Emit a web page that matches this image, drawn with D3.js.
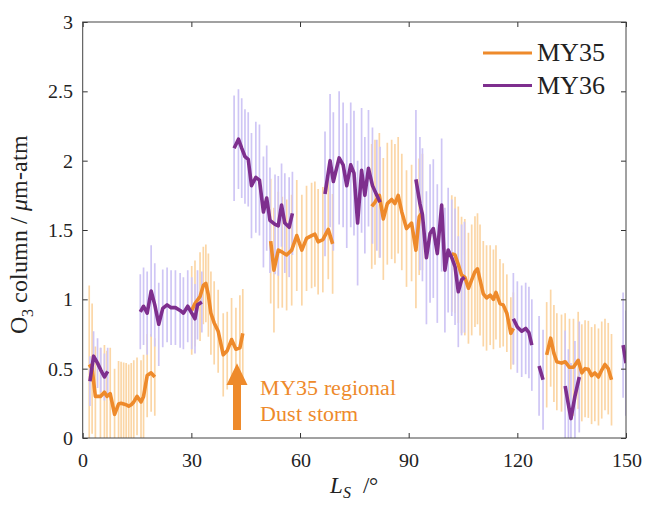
<!DOCTYPE html>
<html>
<head>
<meta charset="utf-8">
<script src="https://cdn.jsdelivr.net/npm/d3@7"></script>
<style>
  @font-face {
    font-family: "PlotSerif";
    src: local("Liberation Serif"), local("LiberationSerif"), local("LiberationSerif-Regular"),
         local("DejaVu Serif"), local("DejaVuSerif"), local("Times New Roman");
    font-style: normal;
  }
  @font-face {
    font-family: "PlotSerif";
    src: local("Liberation Serif Italic"), local("LiberationSerif-Italic"),
         local("DejaVu Serif Italic"), local("DejaVuSerif-Italic");
    font-style: italic;
  }
  body { margin: 0; background: white; }
  svg text { font-family: PlotSerif, 'Liberation Serif', 'DejaVu Serif', serif; fill: #222; }
</style>
</head>
<body>
<div id="container"></div>
<script>
var width = 646,
    height = 505;
var serifFont = "PlotSerif, 'Liberation Serif', 'DejaVu Serif', serif";

var margin = {top: 22, right: 20, bottom: 67, left: 82.7};
var w = width - margin.left - margin.right,
    h = height - margin.top - margin.bottom;

// MY35 -- null marks a gap between observation periods
var my35Ls = [1.8,2.6,3.5,4.9,6.0,6.7,7.6,8.8,9.9,10.6,11.3,12.0,12.7,13.4,14.1,15.0,16.1,16.8,17.8,18.9,19.9, null,
              30.1,31.0,32.4,33.3,34.0,34.7,35.4,36.3,37.4,38.8,39.9,41.1,42.3,43.4,44.2, null,
              51.9,52.8,54.0,55.1,56.3,57.7,59.1,60.5,61.8,63.2,64.1,65.0,66.3,67.8,69.0, null,
              79.8,80.7,81.9,83.0,84.1,85.3,86.2,87.1,88.1,89.4,90.8,92.0,92.9,93.8, null,
              101.9,102.8,103.7,104.6,105.5,106.5,107.4,108.3,109.0,109.7,110.6,111.5,112.5,113.4,114.1,115.2,116.1,117.1,118.2,118.9, null,
              128.1,129.2,130.1,130.9,132.2,133.2,134.4,135.5,136.8,137.8,138.7,139.6,140.5,141.4,142.4,143.3,144.2,145.1,146.0];
var my35O3 = [0.53,0.50,0.30,0.30,0.33,0.30,0.32,0.17,0.245,0.25,0.245,0.24,0.23,0.24,0.26,0.30,0.26,0.30,0.45,0.47,0.44, null,
              0.92,0.97,1.02,1.10,1.115,1.03,0.90,0.83,0.77,0.60,0.63,0.71,0.64,0.65,0.755, null,
              1.42,1.21,1.355,1.34,1.32,1.355,1.46,1.355,1.44,1.46,1.47,1.415,1.43,1.505,1.40, null,
              1.67,1.70,1.75,1.58,1.69,1.72,1.69,1.75,1.63,1.51,1.55,1.355,1.595,1.63, null,
              1.33,1.32,1.25,1.175,1.16,1.08,1.14,1.20,1.22,1.14,1.04,1.01,1.03,1.00,1.05,0.97,0.96,0.90,0.755,0.79, null,
              0.60,0.72,0.61,0.55,0.54,0.55,0.51,0.51,0.56,0.47,0.50,0.495,0.45,0.47,0.44,0.49,0.53,0.50,0.42];
var my35Err = [0.57,0.47,0.36,0.35,0.34,0.33,0.33,0.33,0.31,0.30,0.30,0.30,0.30,0.30,0.30,0.28,0.30,0.30,0.30,0.28,0.28, null,
               0.32,0.31,0.32,0.28,0.28,0.30,0.30,0.30,0.30,0.30,0.28,0.30,0.30,0.38,0.32, null,
               0.45,0.45,0.42,0.40,0.40,0.40,0.40,0.40,0.38,0.38,0.38,0.38,0.38,0.36,0.36, null,
               0.45,0.45,0.45,0.44,0.44,0.43,0.43,0.42,0.42,0.42,0.42,0.42,0.42,0.42, null,
               0.42,0.42,0.42,0.42,0.42,0.40,0.40,0.40,0.40,0.40,0.38,0.38,0.36,0.36,0.34,0.32,0.30,0.28,0.26,0.26, null,
               0.38,0.35,0.35,0.35,0.35,0.35,0.35,0.35,0.35,0.35,0.35,0.35,0.35,0.35,0.35,0.35,0.33,0.33,0.33];

// MY36
var my36Ls = [2.0,3.0,4.1,5.0,6.0,6.9, null,
              15.9,16.8,17.8,18.9,19.9,21.0,22.1,23.3,24.4,25.6,26.9,27.8,29.0,30.1,31.0,31.7,32.9, null,
              41.8,43.0,43.9,44.8,45.7,46.6,47.8,48.8,49.9,50.8,51.7,53.1,54.0,54.9,55.8,57.0,57.9, null,
              66.9,68.3,69.2,70.8,71.9,72.9,74.0,74.9,75.9,77.0,77.9,78.9,80.0,81.2,82.1, null,
              92.0,93.1,93.8,94.9,95.9,96.8,97.9,99.1,100.0,100.9,101.9,102.8,103.7,104.6,105.4, null,
              118.9,120.0,121.2,122.3,123.2,124.0, null,
              126.0,127.1, null,
              133.2,134.1,134.8,135.9,137.1, null,
              149.2,150.0];
var my36O3 = [0.41,0.59,0.54,0.49,0.44,0.48, null,
              0.91,0.95,0.90,1.06,0.96,0.82,0.935,0.96,0.94,0.94,0.92,0.90,0.95,0.90,0.86,0.96,0.98, null,
              2.09,2.155,2.09,2.03,2.01,1.82,1.88,1.86,1.63,1.73,1.57,1.54,1.53,1.68,1.55,1.52,1.62, null,
              1.76,2.00,1.85,2.02,1.97,1.82,1.97,1.91,1.55,1.93,1.75,1.945,1.82,1.75,1.70, null,
              1.865,1.69,1.61,1.30,1.475,1.51,1.33,1.68,1.21,1.355,1.30,1.235,1.055,1.14,1.16, null,
              0.86,0.80,0.77,0.79,0.76,0.67, null,
              0.52,0.42, null,
              0.375,0.24,0.14,0.30,0.44, null,
              0.67,0.54];
var my36Err = [0.18,0.18,0.18,0.16,0.17,0.17, null,
               0.27,0.28,0.30,0.33,0.30,0.30,0.28,0.27,0.27,0.27,0.27,0.26,0.26,0.26,0.25,0.25,0.22, null,
               0.38,0.36,0.36,0.34,0.34,0.38,0.40,0.40,0.40,0.38,0.38,0.36,0.36,0.30,0.36,0.36,0.30, null,
               0.45,0.48,0.50,0.48,0.45,0.45,0.45,0.45,0.45,0.45,0.42,0.42,0.42,0.40,0.40, null,
               0.50,0.48,0.48,0.48,0.50,0.50,0.50,0.48,0.45,0.45,0.42,0.42,0.40,0.40,0.40, null,
               0.33,0.33,0.33,0.33,0.33,0.33, null,
               0.36,0.36, null,
               0.40,0.40,0.40,0.40,0.40, null,
               0.38,0.38];

var xTicks = [0, 30, 60, 90, 120, 150];
var yTicks = [0, 0.5, 1, 1.5, 2, 2.5, 3];

var series = [
  {name: "MY35", ls: my35Ls, o3: my35O3, err: my35Err, line: "#ee8a2b", bar: "#fbd6a6"},
  {name: "MY36", ls: my36Ls, o3: my36O3, err: my36Err, line: "#7e2f8e", bar: "#cfc6f5"}
];

var svg = d3.select("#container")
            .append("svg")
            .attr("width", width)
            .attr("height", height)
            .attr("font-family", serifFont);

var g = svg.append("g")
           .attr("transform", "translate(" + margin.left + "," + margin.top + ")");

var x = d3.scaleLinear().domain([0, 150]).range([0, w]);
var y = d3.scaleLinear().domain([0, 3]).range([h, 0]);

g.append("clipPath").attr("id", "plotclip")
 .append("rect").attr("width", w).attr("height", h);

var plot = g.append("g").attr("clip-path", "url(#plotclip)");

series.forEach(function(s){
  s.points = s.ls.map(function(d, i){ return {ls: d, o3: s.o3[i], err: s.err[i]}; });
});

// error bars first, then the lines on top
series.forEach(function(s){
  plot.append("g").selectAll("line")
      .data(s.points.filter(function(d){ return d.o3 != null; }))
      .enter().append("line")
      .attr("x1", function(d){ return x(d.ls); })
      .attr("x2", function(d){ return x(d.ls); })
      .attr("y1", function(d){ return y(d.o3 - d.err); })
      .attr("y2", function(d){ return y(d.o3 + d.err); })
      .style("stroke", s.bar)
      .style("stroke-width", 1.7);
});

var line = d3.line()
    .defined(function(d){ return d.o3 != null; })
    .x(function(d){ return x(d.ls); })
    .y(function(d){ return y(d.o3); });

series.forEach(function(s){
  plot.append("path")
      .datum(s.points)
      .attr("d", line)
      .style("fill", "none")
      .style("stroke", s.line)
      .style("stroke-width", 3.6)
      .style("stroke-linejoin", "round");
});

// axes, ticks pointing inward on all four sides
function styleAxis(sel){
  sel.attr("font-family", serifFont).attr("font-size", 20);
  sel.select(".domain").remove();
  sel.selectAll(".tick line").style("stroke", "#333");
  sel.selectAll(".tick text")
     .style("font-family", serifFont)
     .style("font-size", "20px")
     .style("fill", "#222");
}

g.append("g")
 .attr("transform", "translate(0," + h + ")")
 .call(d3.axisBottom(x).tickValues(xTicks).tickSizeInner(-5).tickSizeOuter(0).tickPadding(15))
 .call(styleAxis);

g.append("g")
 .call(d3.axisTop(x).tickValues(xTicks).tickSizeInner(-5).tickSizeOuter(0).tickFormat(""))
 .call(styleAxis);

g.append("g")
 .call(d3.axisLeft(y).tickValues(yTicks).tickSizeInner(-5).tickSizeOuter(0).tickPadding(10)
        .tickFormat(function(d){ return String(d); }))
 .call(styleAxis);

g.append("g")
 .attr("transform", "translate(" + w + ",0)")
 .call(d3.axisRight(y).tickValues(yTicks).tickSizeInner(-5).tickSizeOuter(0).tickFormat(""))
 .call(styleAxis);

g.append("rect")
 .attr("width", w)
 .attr("height", h)
 .style("fill", "none")
 .style("stroke", "#444")
 .style("stroke-width", 1);

// axis titles
var xl = svg.append("text")
    .attr("x", margin.left + w / 2)
    .attr("y", 493)
    .attr("text-anchor", "middle")
    .style("font-family", serifFont)
    .style("font-size", "23px");
xl.append("tspan").style("font-style", "italic").text("L");
xl.append("tspan").attr("dy", 5).style("font-style", "italic").style("font-size", "16px").text("S");
xl.append("tspan").attr("dy", -5).text("\u2002/\u00b0");

var yl = svg.append("text")
    .attr("transform", "translate(27," + (margin.top + h / 2 + 4) + ") rotate(-90)")
    .attr("text-anchor", "middle")
    .style("font-family", serifFont)
    .style("font-size", "24px");
yl.append("tspan").text("O");
yl.append("tspan").attr("dy", 6).style("font-size", "16px").text("3");
yl.append("tspan").attr("dy", -6).text(" column / ");
yl.append("tspan").style("font-style", "italic").text("\u03bc");
yl.append("tspan").text("m-atm");

// dust storm arrow + note
var ax = x(42.6);
var arrow = [
  [ax - 4, y(0.058)], [ax - 4, y(0.382)], [ax - 10.5, y(0.382)],
  [ax, y(0.539)],
  [ax + 10.5, y(0.382)], [ax + 4, y(0.382)], [ax + 4, y(0.058)]
];
g.append("path")
 .attr("d", d3.line()(arrow) + "Z")
 .style("fill", "#ee8a2b");

var note = g.append("text")
    .attr("x", x(49))
    .attr("y", y(0.31))
    .style("font-family", serifFont)
    .style("font-size", "22px")
    .style("fill", "#ee8a2b");
note.append("tspan").text("MY35 regional");
note.append("tspan").attr("x", x(49)).attr("dy", 26).text("Dust storm");

// legend
var legend = g.append("g")
    .attr("transform", "translate(" + (w - 143) + ",31)");

legend.selectAll("line")
      .data(series)
      .enter().append("line")
      .attr("x1", 0).attr("x2", 49)
      .attr("y1", function(d, i){ return i * 32.5; })
      .attr("y2", function(d, i){ return i * 32.5; })
      .style("stroke", function(d){ return d.line; })
      .style("stroke-width", 3.2);

legend.selectAll("text")
      .data(series)
      .enter().append("text")
      .attr("x", 54)
      .attr("y", function(d, i){ return i * 32.5 + 8; })
      .style("font-family", serifFont)
      .style("font-size", "26px")
      .text(function(d){ return d.name; });
</script>
</body>
</html>
